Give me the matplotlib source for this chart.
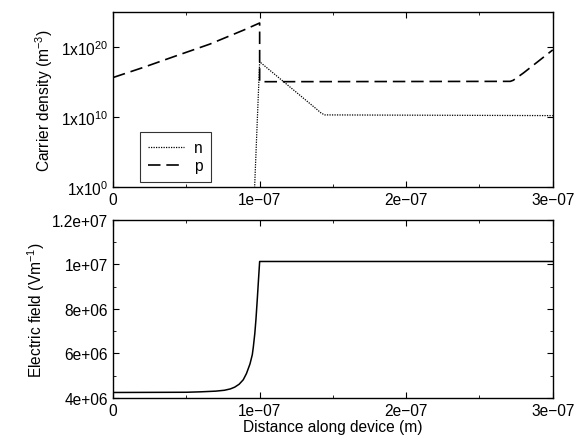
import numpy as np
import matplotlib
matplotlib.use("Agg")
import matplotlib.pyplot as plt
from matplotlib.ticker import FixedLocator, MultipleLocator

plt.rcParams['font.family'] = ['Liberation Sans', 'DejaVu Sans']
plt.rcParams['mathtext.fontset'] = 'custom'
plt.rcParams['mathtext.rm'] = 'Liberation Sans'
plt.rcParams['mathtext.it'] = 'Liberation Sans'
plt.rcParams['font.size'] = 11.2

# Carrier densities (log10 of m^-3) vs distance (m)
p_x = [0.0, 0.2e-7, 0.43e-7, 0.66e-7, 0.89e-7, 1.0e-7,
       1.0e-7, 2.71e-7, 2.73e-7, 2.75e-7, 2.8e-7, 3.0e-7]
p_log = [15.65, 17.05, 18.75, 20.43, 22.43, 23.45,
         15.05, 15.1, 15.25, 15.55, 16.3, 19.6]

n_x = [0.96e-7, 1.0e-7, 1.39e-7, 1.42e-7, 1.445e-7, 3.0e-7]
n_log = [-3.0, 17.9, 11.1, 10.55, 10.3, 10.2]

# Electric field (V/m) vs distance (m)
e_x = [0.0, 0.5e-7, 0.6e-7, 0.7e-7, 0.76e-7, 0.8e-7, 0.83e-7, 0.86e-7,
       0.888e-7, 0.91e-7, 0.934e-7, 0.95e-7, 0.957e-7, 0.967e-7, 0.975e-7,
       0.984e-7, 0.992e-7, 1.0e-7, 3.0e-7]
e_val = [4.25e6, 4.26e6, 4.28e6, 4.31e6, 4.35e6, 4.41e6, 4.49e6, 4.62e6,
         4.82e6, 5.1e6, 5.53e6, 5.95e6, 6.3e6, 6.9e6, 7.55e6,
         8.45e6, 9.3e6, 10.13e6, 10.13e6]

x_ticks = [0, 1e-7, 2e-7, 3e-7]
x_tick_labels = ['0', '1e\u221207', '2e\u221207', '3e\u221207']
top_yticks = [1e0, 1e10, 1e20]
top_ylabels = [r'1x10$^{0}$', r'1x10$^{10}$', r'1x10$^{20}$']
bot_yticks = [4e6, 6e6, 8e6, 1e7, 1.2e7]
bot_ylabels = ['4e+06', '6e+06', '8e+06', '1e+07', '1.2e+07']

fig = plt.figure(figsize=(5.77, 4.39), dpi=100)
ax1 = fig.add_axes([0.196, 0.572, 0.762, 0.398])
ax2 = fig.add_axes([0.196, 0.091, 0.762, 0.406])

ax1.plot(n_x, 10.0 ** np.array(n_log), color='black', lw=0.9,
         linestyle=(0, (1, 1)), label='n')
ax1.plot(p_x, 10.0 ** np.array(p_log), color='black', lw=1.2,
         linestyle=(0, (7.5, 3.5)), label='p')
ax1.set_yscale('log')
ax1.set_xlim(0, 3e-7)
ax1.set_ylim(1e0, 1e25)
ax1.yaxis.set_major_locator(FixedLocator(top_yticks))
ax1.yaxis.set_minor_locator(FixedLocator([]))
ax1.set_yticklabels(top_ylabels)
ax1.set_xticks(x_ticks)
ax1.set_xticklabels(x_tick_labels)
ax1.xaxis.set_minor_locator(MultipleLocator(0.5e-7))
ax1.set_ylabel('Carrier density (m$^{-3}$)')
leg = ax1.legend(loc='lower left', bbox_to_anchor=(0.061, 0.029), borderaxespad=0,
                 frameon=True, fancybox=False, edgecolor='black',
                 handlelength=2.3, borderpad=0.55, labelspacing=0.2,
                 handletextpad=0.6)
leg.get_frame().set_linewidth(0.8)

ax2.plot(e_x, e_val, color='black', lw=1.1)
ax2.set_xlim(0, 3e-7)
ax2.set_ylim(4e6, 1.2e7)
ax2.set_yticks(bot_yticks)
ax2.set_yticklabels(bot_ylabels)
ax2.yaxis.set_minor_locator(MultipleLocator(1e6))
ax2.set_xticks(x_ticks)
ax2.set_xticklabels(x_tick_labels)
ax2.xaxis.set_minor_locator(MultipleLocator(0.5e-7))
ax2.set_ylabel('Electric field (Vm$^{-1}$)')
ax2.set_xlabel('Distance along device (m)', labelpad=1)

for ax in (ax1, ax2):
    ax.tick_params(which='both', direction='in', top=True, right=True)
    ax.tick_params(which='major', length=4)
    ax.tick_params(which='minor', length=2.5)
    for s in ax.spines.values():
        s.set_linewidth(1.0)

fig.savefig('out.png', dpi=100)
